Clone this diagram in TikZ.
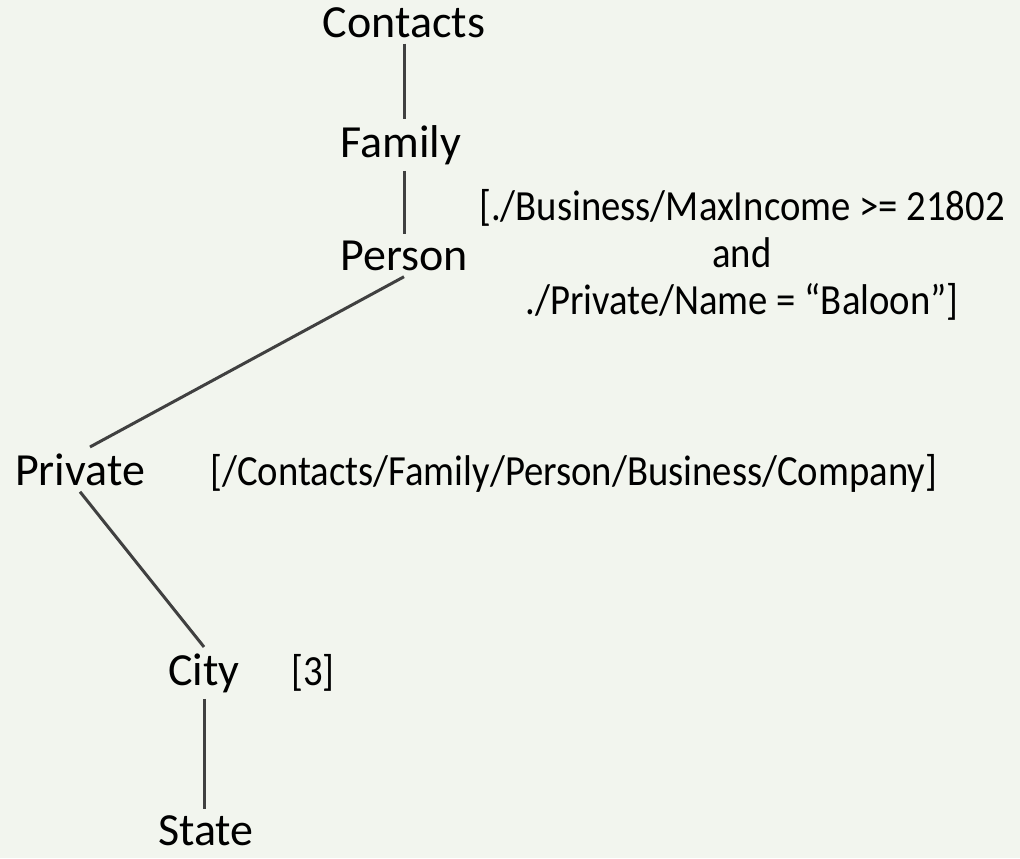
\documentclass[tikz,border=0pt]{standalone}
\usepackage{fontspec}
\setmainfont{Carlito}
\newfontfamily\condfont[FakeStretch=0.9]{Carlito}
\definecolor{bgpaper}{HTML}{F2F5EE}
\definecolor{linegray}{HTML}{404040}
\tikzset{
  tag/.style={font=\fontsize{23pt}{23.5pt}\selectfont, inner sep=3pt},
  cond/.style={font=\condfont\fontsize{21.5pt}{23.5pt}\selectfont, inner sep=0pt, align=center},
  treeline/.style={draw=linegray, line width=1.5pt}
}

\begin{document}
\begin{tikzpicture}[x=0.5pt, y=-0.5pt]
  \fill[bgpaper, use as bounding box] (0,0) rectangle (1020,858);

  % path steps
  \node[tag, anchor=base] (contacts) at (404,37)  {Contacts};
  \node[tag, anchor=base] (family)   at (401,157) {Family};
  \node[tag, anchor=base] (person)   at (404,270) {Person};
  \node[tag, anchor=base] (private)  at (80,485)  {Private};
  \node[tag, anchor=base] (city)     at (204,685) {City};
  \node[tag, anchor=base] (state)    at (206,845) {State};

  % predicates
  \node[cond, anchor=north] (condPerson) at (742,189)
    {[./Business/MaxIncome >= 21802\\and\\./Private/Name = “Baloon”]};
  \node[cond, anchor=base west] (condPrivate) at (210,485)
    {[/Contacts/Family/Person/Business/Company]};
  \node[cond, anchor=base west] (condCity) at (291,685) {[3]};

  % tree
  \draw[treeline] (contacts.south) -- (contacts.south |- family.north);
  \draw[treeline] (family.south -| contacts.south) -- (contacts.south |- person.north);
  \draw[treeline] (person.south) -- ([xshift=5pt]private.north);
  \draw[treeline] (private.south) -- (city.north);
  \draw[treeline] (city.south) -- (city.south |- state.north);
\end{tikzpicture}
\end{document}
